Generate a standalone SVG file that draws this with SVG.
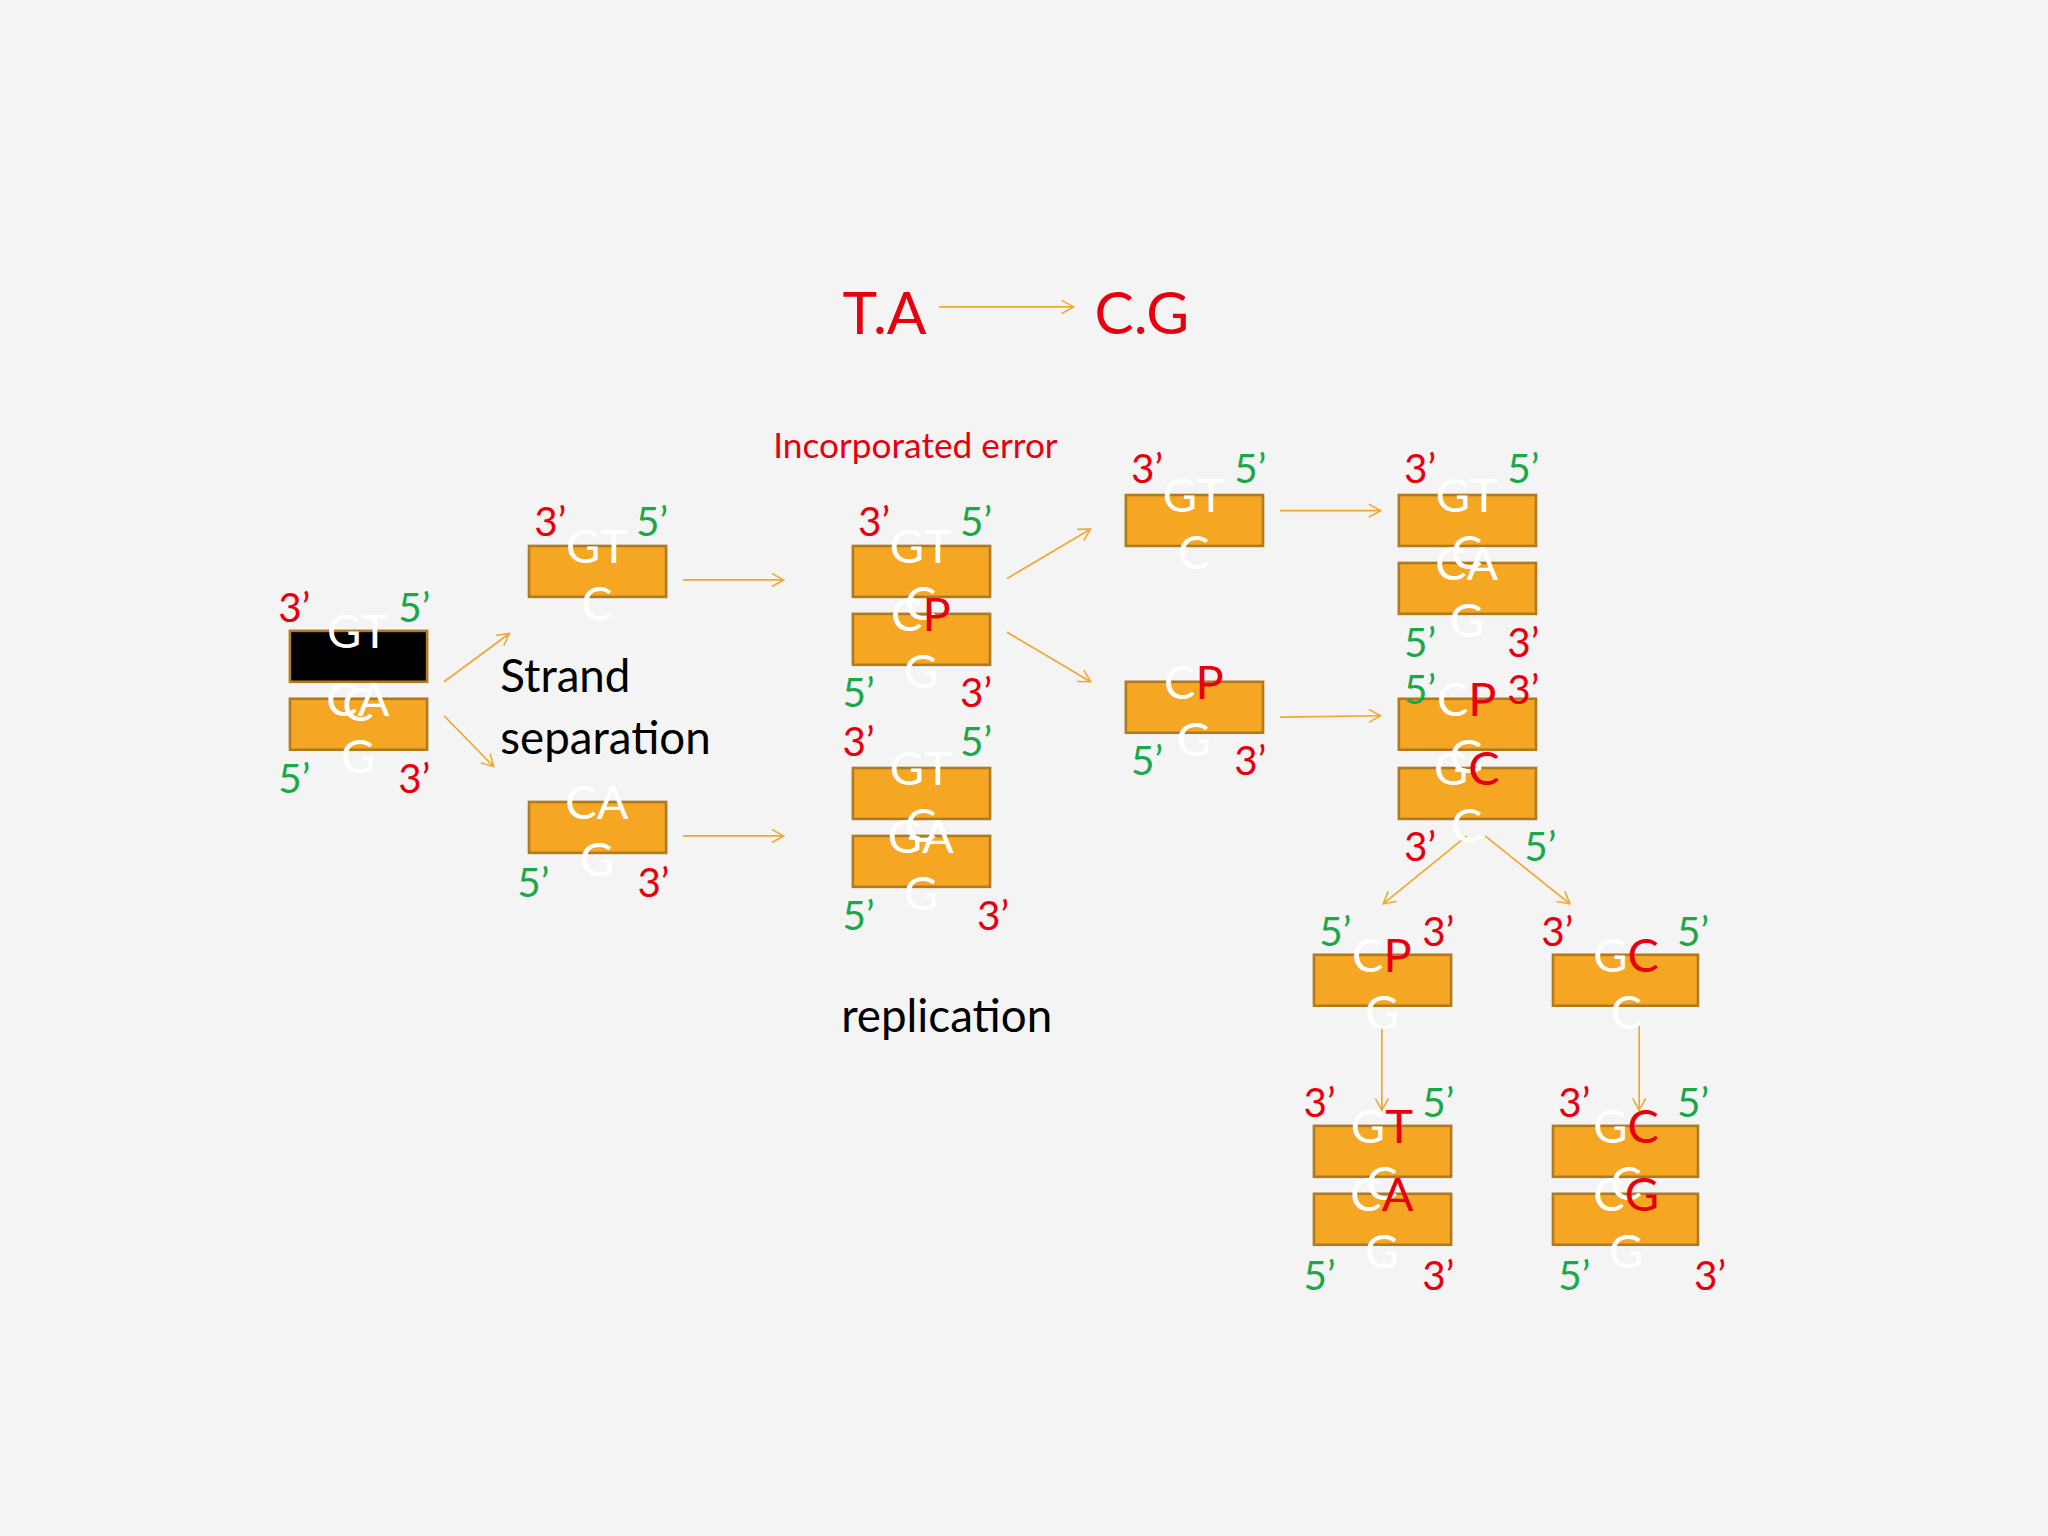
<svg xmlns="http://www.w3.org/2000/svg" width="2048" height="1536" viewBox="0 0 2048 1536">
<defs>
<marker id="ah" markerWidth="12" markerHeight="12" refX="10" refY="6" orient="auto" markerUnits="userSpaceOnUse"><path d="M1,1 L10,6 L1,11" fill="none" stroke="#f0a830" stroke-width="1.2"/></marker>
<style>
.bx{fill:#f5a623;stroke:#b07a20;stroke-width:2}
.bk{fill:#000;stroke:#b07a20;stroke-width:2}
.w{fill:#fff;font-family:Lato,"Open Sans",sans-serif;font-size:36px;text-anchor:middle}
.r{fill:#e8000f}
.g{fill:#1aa84a}
.lb{font-family:Lato,"Open Sans",sans-serif;font-size:31px}
.bl{font-family:Lato,"Open Sans",sans-serif;font-size:35px;fill:#000}
.c line{stroke:#f0a830;stroke-width:1.3;marker-end:url(#ah)}
</style>
</defs>
<rect width="2048" height="1536" fill="#f4f4f4"/>
<g transform="scale(1.30612)">
<g id="title"><text x="645" y="256" class="r" font-family="Lato,sans-serif" font-size="45">T.A</text><text x="838" y="256" class="r" font-family="Lato,sans-serif" font-size="45">C.G</text>
<text x="592" y="351" class="r" font-family="Lato,sans-serif" font-size="27">Incorporated error</text>
<text x="383" y="530" class="bl">Strand</text><text x="383" y="577" class="bl">separation</text>
<text x="644" y="790" class="bl">replication</text></g>
<g class="c" id="connectors">
<line x1="719" y1="235" x2="822" y2="235"/>
<line x1="340" y1="522" x2="390" y2="485"/>
<line x1="340" y1="548" x2="378" y2="587"/>
<line x1="523" y1="444" x2="600" y2="444"/>
<line x1="523" y1="640" x2="600" y2="640"/>
<line x1="771" y1="443" x2="835" y2="405"/>
<line x1="771" y1="484" x2="835" y2="522"/>
<line x1="980" y1="391" x2="1057" y2="391"/>
<line x1="980" y1="549" x2="1057" y2="548"/>
<line x1="1123" y1="640" x2="1059" y2="692"/>
<line x1="1137" y1="640" x2="1202" y2="692"/>
<line x1="1058" y1="785" x2="1058" y2="850"/>
<line x1="1255" y1="785" x2="1255" y2="850"/>
</g>
<g id="n1">
<rect class="bk" x="222" y="483" width="105" height="39"/><rect class="bx" x="222" y="535" width="105" height="39"/>
<text class="w"><tspan x="274" y="496">GT</tspan><tspan x="274" y="552">C</tspan></text>
<text class="w"><tspan x="274" y="548">CA</tspan><tspan x="274" y="592">G</tspan></text>
<text class="lb r" x="213" y="476">3’</text><text class="lb g" x="305" y="476">5’</text>
<text class="lb g" x="213" y="607">5’</text><text class="lb r" x="305" y="607">3’</text></g>
<g id="n2a"><rect class="bx" x="405" y="418" width="105" height="39"/>
<text class="w"><tspan x="457" y="431">GT</tspan><tspan x="457" y="475">C</tspan></text>
<text class="lb r" x="409" y="410">3’</text><text class="lb g" x="487" y="410">5’</text></g>
<g id="n2b"><rect class="bx" x="405" y="614" width="105" height="39"/>
<text class="w"><tspan x="457" y="627">CA</tspan><tspan x="457" y="671">G</tspan></text>
<text class="lb g" x="396" y="687">5’</text><text class="lb r" x="488" y="687">3’</text></g>
<g id="n3a"><rect class="bx" x="653" y="418" width="105" height="39"/><rect class="bx" x="653" y="470" width="105" height="39"/>
<text class="w"><tspan x="705" y="431">GT</tspan><tspan x="705" y="475">C</tspan></text>
<text class="w"><tspan x="705" y="483">C<tspan class="r">P</tspan></tspan><tspan x="705" y="527">G</tspan></text>
<text class="lb r" x="657" y="410">3’</text><text class="lb g" x="735" y="410">5’</text>
<text class="lb g" x="645" y="541">5’</text><text class="lb r" x="735" y="541">3’</text></g>
<g id="n3b"><rect class="bx" x="653" y="588" width="105" height="39"/><rect class="bx" x="653" y="640" width="105" height="39"/>
<text class="w"><tspan x="705" y="601">GT</tspan><tspan x="705" y="645">C</tspan></text>
<text class="w"><tspan x="705" y="653">GA</tspan><tspan x="705" y="697">G</tspan></text>
<text class="lb r" x="645" y="579">3’</text><text class="lb g" x="735" y="579">5’</text>
<text class="lb g" x="645" y="712">5’</text><text class="lb r" x="748" y="712">3’</text></g>
<g id="n4a"><rect class="bx" x="862" y="379" width="105" height="39"/>
<text class="w"><tspan x="914" y="392">GT</tspan><tspan x="914" y="436">C</tspan></text>
<text class="lb r" x="866" y="370">3’</text><text class="lb g" x="945" y="370">5’</text></g>
<g id="n4b"><rect class="bx" x="862" y="522" width="105" height="39"/>
<text class="w"><tspan x="914" y="535">C<tspan class="r">P</tspan></tspan><tspan x="914" y="579">G</tspan></text>
<text class="lb g" x="866" y="593">5’</text><text class="lb r" x="945" y="593">3’</text></g>
<g id="n5a"><rect class="bx" x="1071" y="379" width="105" height="39"/><rect class="bx" x="1071" y="431" width="105" height="39"/>
<text class="w"><tspan x="1123" y="392">GT</tspan><tspan x="1123" y="436">C</tspan></text>
<text class="w"><tspan x="1123" y="444">CA</tspan><tspan x="1123" y="488">G</tspan></text>
<text class="lb r" x="1075" y="370">3’</text><text class="lb g" x="1154" y="370">5’</text>
<text class="lb g" x="1075" y="503">5’</text><text class="lb r" x="1154" y="503">3’</text></g>
<g id="n5b"><rect class="bx" x="1071" y="535" width="105" height="39"/><rect class="bx" x="1071" y="588" width="105" height="39"/>
<text class="w"><tspan x="1123" y="548">C<tspan class="r">P</tspan></tspan><tspan x="1123" y="592">G</tspan></text>
<text class="w"><tspan x="1123" y="601">G<tspan class="r">C</tspan></tspan><tspan x="1123" y="645">C</tspan></text>
<text class="lb g" x="1075" y="539">5’</text><text class="lb r" x="1154" y="539">3’</text>
<text class="lb r" x="1075" y="659">3’</text><text class="lb g" x="1167" y="659">5’</text></g>
<g id="n6a"><rect class="bx" x="1006" y="731" width="105" height="39"/>
<text class="w"><tspan x="1058" y="744">C<tspan class="r">P</tspan></tspan><tspan x="1058" y="788">G</tspan></text>
<text class="lb g" x="1010" y="724">5’</text><text class="lb r" x="1089" y="724">3’</text></g>
<g id="n6b"><rect class="bx" x="1189" y="731" width="111" height="39"/>
<text class="w"><tspan x="1245" y="744">G<tspan class="r">C</tspan></tspan><tspan x="1245" y="788">C</tspan></text>
<text class="lb r" x="1180" y="724">3’</text><text class="lb g" x="1284" y="724">5’</text></g>
<g id="n7a"><rect class="bx" x="1006" y="862" width="105" height="39"/><rect class="bx" x="1006" y="914" width="105" height="39"/>
<text class="w"><tspan x="1058" y="875">G<tspan class="r">T</tspan></tspan><tspan x="1058" y="919">C</tspan></text>
<text class="w"><tspan x="1058" y="927">C<tspan class="r">A</tspan></tspan><tspan x="1058" y="971">G</tspan></text>
<text class="lb r" x="998" y="855">3’</text><text class="lb g" x="1089" y="855">5’</text>
<text class="lb g" x="998" y="988">5’</text><text class="lb r" x="1089" y="988">3’</text></g>
<g id="n7b"><rect class="bx" x="1189" y="862" width="111" height="39"/><rect class="bx" x="1189" y="914" width="111" height="39"/>
<text class="w"><tspan x="1245" y="875">G<tspan class="r">C</tspan></tspan><tspan x="1245" y="919">C</tspan></text>
<text class="w"><tspan x="1245" y="927">C<tspan class="r">G</tspan></tspan><tspan x="1245" y="971">G</tspan></text>
<text class="lb r" x="1193" y="855">3’</text><text class="lb g" x="1284" y="855">5’</text>
<text class="lb g" x="1193" y="988">5’</text><text class="lb r" x="1297" y="988">3’</text></g>
</g>
</svg>
